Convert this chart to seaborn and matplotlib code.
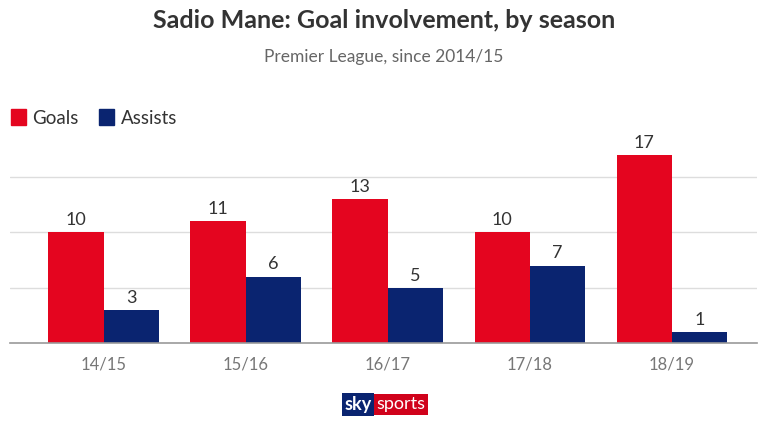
import numpy as np
import pandas as pd
import matplotlib
matplotlib.use("Agg")
import matplotlib.pyplot as plt
import matplotlib.patches as mpatches
import seaborn as sns

# ── Data ───────────────────────────────────────────────────────────────────────
seasons = ["14/15", "15/16", "16/17", "17/18", "18/19"]
goals = [10, 11, 13, 10, 17]
assists = [3, 6, 5, 7, 1]
series = ["Goals", "Assists"]

RED = "#e4051f"
NAVY = "#0a2470"
TEXT = "#333333"

df = pd.DataFrame({
    "season": seasons * 2,
    "value": goals + assists,
    "kind": [series[0]] * len(seasons) + [series[1]] * len(seasons),
})

# ── Style ──────────────────────────────────────────────────────────────────────
sns.set_style("white")
plt.rcParams["font.family"] = ["Lato", "DejaVu Sans"]

fig = plt.figure(figsize=(7.68, 4.32), dpi=100)
ax = fig.add_axes([0.013, 0.206, 0.973, 0.461])

sns.barplot(data=df, x="season", y="value", hue="kind", order=seasons,
            hue_order=series, palette=[RED, NAVY], width=0.78,
            saturation=1, ax=ax, legend=False, linewidth=0)

for cont in ax.containers:
    ax.bar_label(cont, padding=3, fontsize=13, color=TEXT)

ax.set_ylim(0, 18)
ax.set_xlim(-0.66, 4.6)
ax.set_yticks([5, 10, 15])
ax.yaxis.grid(True, color="#dddddd", linewidth=1)
ax.set_axisbelow(True)
ax.tick_params(axis="y", left=False, labelleft=False)
ax.tick_params(axis="x", bottom=False, labelsize=12, labelcolor="#777777", pad=6)
ax.set_xlabel("")
ax.set_ylabel("")
for s in ["top", "right", "left"]:
    ax.spines[s].set_visible(False)
ax.spines["bottom"].set_color("#999999")
ax.spines["bottom"].set_linewidth(1.2)

# titles
fig.text(0.5, 0.953, "Sadio Mane: Goal involvement, by season", ha="center",
         va="center", fontsize=18, fontweight="bold", color=TEXT)
fig.text(0.5, 0.868, "Premier League, since 2014/15", ha="center",
         va="center", fontsize=12.5, color="#666666")

# legend
handles = [mpatches.Patch(color=RED, label="Goals"),
           mpatches.Patch(color=NAVY, label="Assists")]
fig.legend(handles=handles, loc="center left", bbox_to_anchor=(0.004, 0.727),
           ncol=2, frameon=False, fontsize=13.5, handlelength=0.8,
           handleheight=0.9, handletextpad=0.35, columnspacing=1.1,
           labelcolor=TEXT, borderaxespad=0)

# sky sports badge
fig.text(0.484, 0.064, "sky", ha="right", va="center", fontsize=13,
         fontweight="bold", color="white",
         bbox=dict(boxstyle="square,pad=0.15", fc=NAVY, ec="none"))
fig.text(0.490, 0.064, "sports", ha="left", va="center", fontsize=13,
         color="white",
         bbox=dict(boxstyle="square,pad=0.15", fc="#d0021b", ec="none"))

fig.savefig("out.png", dpi=100)
